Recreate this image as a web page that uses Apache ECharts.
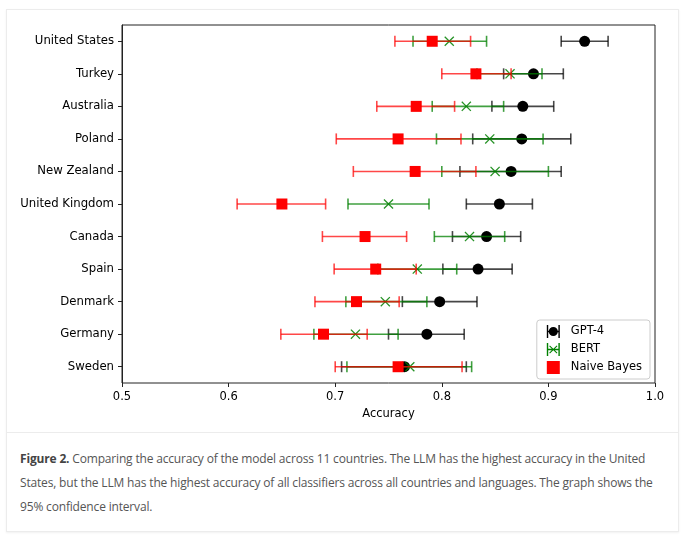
<!DOCTYPE html>
<html>
<head>
<meta charset="utf-8">
<script src="https://cdn.jsdelivr.net/npm/echarts@6/dist/echarts.min.js"></script>
<style>
  html, body { margin: 0; padding: 0; background: #fff; width: 682px; height: 538px; overflow: hidden; }
  .card { position: absolute; left: 6px; top: 9px; width: 671px; height: 521px; border: 1px solid #ececec; box-shadow: 0 1px 2px rgba(0,0,0,0.06); background: #fff; }
  #chart { position: absolute; left: 0; top: 0; width: 682px; height: 433px; }
  .sep { position: absolute; left: 7px; top: 432px; width: 671px; height: 1px; background: #ececec; }
  .caption { position: absolute; left: 20px; top: 447px; font-family: "Open Sans", sans-serif; font-size: 12px; letter-spacing: -0.17px; line-height: 24px; color: #555; white-space: nowrap; }
  .caption b { color: #444; }
</style>
</head>
<body>
<div class="card"></div>
<div class="sep"></div>
<div id="chart"></div>
<div class="caption"><b>Figure 2.</b> Comparing the accuracy of the model across 11 countries. The LLM has the highest accuracy in the United<br>States, but the LLM has the highest accuracy of all classifiers across all countries and languages. The graph shows the<br>95% confidence interval.</div>
<script>
// 国家 (从上到下)
const countries = ['United States', 'Turkey', 'Australia', 'Poland', 'New Zealand', 'United Kingdom',
    'Canada', 'Spain', 'Denmark', 'Germany', 'Sweden']

// GPT-4
const gpt4Acc  = [0.934, 0.886, 0.876, 0.875, 0.865, 0.854, 0.842, 0.834, 0.798, 0.786, 0.765]
const gpt4Low  = [0.912, 0.858, 0.847, 0.829, 0.817, 0.823, 0.810, 0.801, 0.763, 0.750, 0.706]
const gpt4High = [0.956, 0.914, 0.905, 0.921, 0.912, 0.885, 0.874, 0.866, 0.833, 0.821, 0.823]

// BERT
const bertAcc  = [0.807, 0.864, 0.823, 0.845, 0.850, 0.750, 0.826, 0.777, 0.747, 0.719, 0.770]
const bertLow  = [0.773, 0.833, 0.791, 0.795, 0.800, 0.712, 0.793, 0.740, 0.710, 0.680, 0.711]
const bertHigh = [0.842, 0.894, 0.858, 0.895, 0.900, 0.788, 0.859, 0.814, 0.786, 0.759, 0.828]

// Naive Bayes
const nbAcc  = [0.791, 0.832, 0.776, 0.759, 0.775, 0.650, 0.728, 0.738, 0.720, 0.689, 0.759]
const nbLow  = [0.756, 0.800, 0.739, 0.701, 0.717, 0.608, 0.688, 0.699, 0.681, 0.649, 0.700]
const nbHigh = [0.827, 0.865, 0.812, 0.818, 0.832, 0.691, 0.767, 0.776, 0.760, 0.730, 0.819]

// x 轴刻度
const xTicks = [0.5, 0.6, 0.7, 0.8, 0.9, 1.0]

const xMarker = 'path://M0,0.9L0.9,0L5,4.1L9.1,0L10,0.9L5.9,5L10,9.1L9.1,10L5,5.9L0.9,10L0,9.1L4.1,5Z'
const iconGpt = 'path://M0,0h1.3v12h-1.3z M10.7,0h1.3v12h-1.3z M1,5.4h10v1.2h-10z M6,1.8a4.2,4.2 0 1,1 -0.01,0z'
const iconBert = 'path://M0,0h1.3v12h-1.3z M10.7,0h1.3v12h-1.3z M1,5.4h10v1.2h-10z M2.2,2.9L2.9,2.2L6,5.3L9.1,2.2L9.8,2.9L6.7,6L9.8,9.1L9.1,9.8L6,6.7L2.9,9.8L2.2,9.1L5.3,6Z'

// 误差线
function errRender(color) {
    return function (params, api) {
        let lo = api.coord([api.value(1), api.value(0)])
        let hi = api.coord([api.value(2), api.value(0)])
        let h = 5.5
        let style = { stroke: color, lineWidth: 1.6 }
        return {
            type: 'group',
            children: [
                { type: 'line', shape: { x1: lo[0], y1: lo[1], x2: hi[0], y2: hi[1] }, style: style },
                { type: 'line', shape: { x1: lo[0], y1: lo[1] - h, x2: lo[0], y2: lo[1] + h }, style: style },
                { type: 'line', shape: { x1: hi[0], y1: hi[1] - h, x2: hi[0], y2: hi[1] + h }, style: style }
            ]
        }
    }
}

function errData(low, high) {
    return countries.map((c, i) => [i, low[i], high[i]])
}
function pointData(acc) {
    return countries.map((c, i) => [acc[i], c])
}

let myChart = echarts.init(document.getElementById('chart'))
let option = {
    animation: false,
    textStyle: { fontFamily: 'DejaVu Sans' },
    grid: { left: 122, right: 27, top: 25, bottom: 50, show: true, borderColor: '#222', borderWidth: 1, backgroundColor: 'transparent' },
    xAxis: {
        type: 'value',
        min: 0.5, max: 1.0, interval: 0.1,
        name: 'Accuracy', nameLocation: 'middle', nameGap: 25,
        nameTextStyle: { color: '#000', fontSize: 11.5, fontFamily: 'DejaVu Sans' },
        axisLine: { lineStyle: { color: '#222', width: 1 } },
        axisTick: { show: true, length: 4, lineStyle: { color: '#222' } },
        axisLabel: { color: '#000', fontSize: 11.5, margin: 8, formatter: v => xTicks.includes(+v.toFixed(1)) ? v.toFixed(1) : '' },
        splitLine: { show: false }
    },
    yAxis: {
        type: 'category',
        data: countries,
        inverse: true,
        axisLine: { lineStyle: { color: '#222', width: 1 } },
        axisTick: { show: true, alignWithLabel: true, length: 4, lineStyle: { color: '#222' } },
        axisLabel: { color: '#000', fontSize: 11.7, margin: 8 },
        splitLine: { show: false }
    },
    legend: {
        orient: 'vertical',
        right: 32, top: 320,
        itemWidth: 13, itemHeight: 13, itemGap: 5,
        padding: [5, 8, 5, 10],
        borderColor: '#ccc', borderWidth: 1, borderRadius: 3,
        backgroundColor: '#fff',
        textStyle: { color: '#000', fontSize: 11.5, fontFamily: 'DejaVu Sans', padding: [0, 0, 0, 6] },
        data: [
            { name: 'GPT-4', icon: iconGpt, itemStyle: { color: '#000' } },
            { name: 'BERT', icon: iconBert, itemStyle: { color: '#008000' } },
            { name: 'Naive Bayes', icon: 'rect', itemStyle: { color: '#ff0000' } }
        ]
    },
    series: [
        { name: 'GPT-4', type: 'custom', renderItem: errRender('rgba(0,0,0,0.72)'), encode: { x: [1, 2], y: 0 },
          data: errData(gpt4Low, gpt4High), itemStyle: { color: '#000' }, z: 2 },
        { name: 'GPT-4', type: 'scatter', symbol: 'circle', symbolSize: 11, data: pointData(gpt4Acc),
          itemStyle: { color: '#000', opacity: 1 }, z: 3 },
        { name: 'BERT', type: 'custom', renderItem: errRender('rgba(0,128,0,0.75)'), encode: { x: [1, 2], y: 0 },
          data: errData(bertLow, bertHigh), itemStyle: { color: '#008000' }, z: 4 },
        { name: 'BERT', type: 'scatter', symbol: xMarker, symbolSize: 10, data: pointData(bertAcc),
          itemStyle: { color: '#008000', opacity: 0.85 }, z: 5 },
        { name: 'Naive Bayes', type: 'custom', renderItem: errRender('rgba(255,0,0,0.72)'), encode: { x: [1, 2], y: 0 },
          data: errData(nbLow, nbHigh), itemStyle: { color: '#ff0000' }, z: 6 },
        { name: 'Naive Bayes', type: 'scatter', symbol: 'rect', symbolSize: 11, data: pointData(nbAcc),
          itemStyle: { color: '#ff0000', opacity: 1 }, z: 7 }
    ]
}
myChart.setOption(option)
</script>
</body>
</html>
